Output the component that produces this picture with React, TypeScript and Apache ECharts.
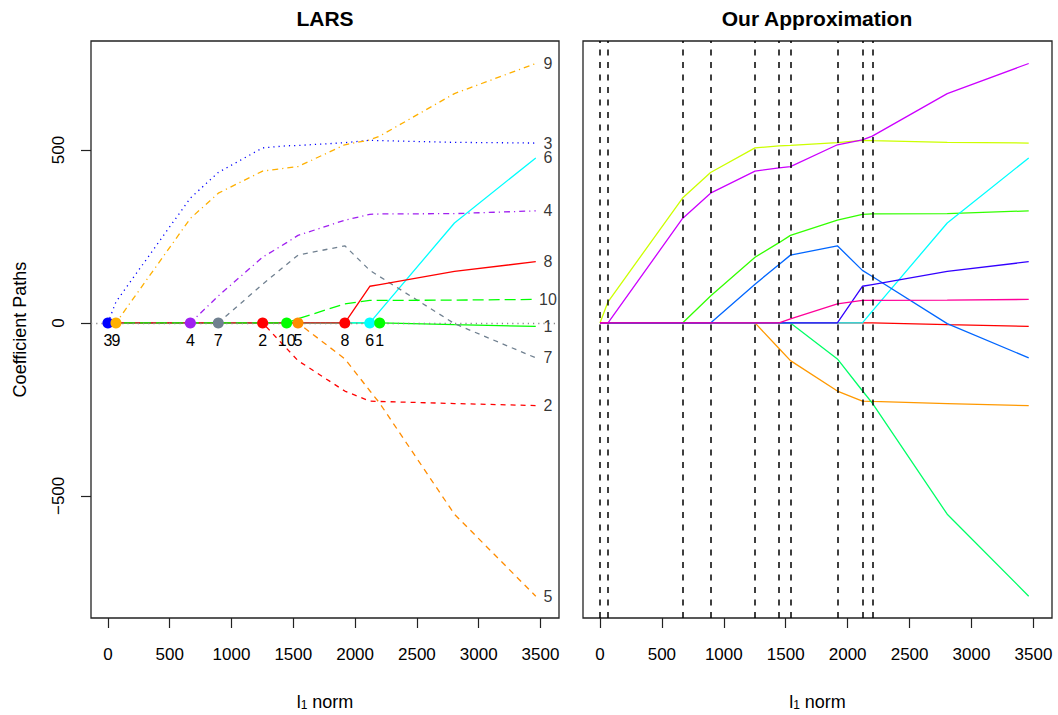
import React, { useEffect, useRef } from "react";
import * as echarts from "echarts";

// l1-norm values at the path breakpoints
const knots = [0, 65, 667, 893, 1252, 1446, 1538, 1917, 2119, 2199, 2804, 3462];
// coefficient values of each variable at the breakpoints
const coef1 = [0, 0, 0, 0, 0, 0, 0, 0, 0, 0, -5, -10];
const coef2 = [0, 0, 0, 0, 0, -74, -109, -197, -226, -227, -233, -239];
const coef3 = [0, 61, 361, 435, 506, 512, 513, 521, 528, 527, 522, 520];
const coef4 = [0, 0, 0, 78, 190, 232, 253, 297, 314, 315, 316, 324];
const coef5 = [0, 0, 0, 0, 0, 0, 0, -104, -196, -232, -553, -790];
const coef6 = [0, 0, 0, 0, 0, 0, 0, 0, 0, 34, 289, 477];
const coef7 = [0, 0, 0, 0, 112, 169, 196, 223, 152, 134, -2, -101];
const coef8 = [0, 0, 0, 0, 0, 0, 0, 0, 106, 111, 149, 177];
const coef9 = [0, 0, 302, 375, 439, 448, 452, 515, 529, 540, 663, 750];
const coef10 = [0, 0, 0, 0, 0, 0, 12, 55, 65, 65, 66, 68];

const varNames = ["1", "2", "3", "4", "5", "6", "7", "8", "9", "10"];
const coefs = [coef1, coef2, coef3, coef4, coef5, coef6, coef7, coef8, coef9, coef10];
// order in which variables enter (one per breakpoint)
const entryOrder = ["3", "9", "4", "7", "2", "10", "5", "8", "6", "1"];

const xTicks = [0, 500, 1000, 1500, 2000, 2500, 3000, 3500];
const yTicks = [-500, 0, 500];

const larsColors = ["#00FF00", "#FF0000", "#0000FF", "#A020F0", "#FF8C00", "#00FFFF", "#708090", "#FF0000", "#FFB000", "#00FF00"];
const larsDash: any[] = ["solid", [5, 5], [1.2, 4], [1.2, 4, 6, 4], [6, 5], "solid", [5, 5], "solid", [1.2, 4, 6, 4], [11, 5]];
const approxColors = ["#FF0000", "#FF9900", "#CCFF00", "#33FF00", "#00FF66", "#00FFFF", "#0066FF", "#3300FF", "#CC00FF", "#FF0099"];

const FONT = "'Liberation Sans', Arial, Helvetica, sans-serif";
const X_MIN = -137;
const X_MAX = 3650;
const Y_MIN = -853;
const Y_MAX = 815;

export default function App() {
  const ref = useRef<HTMLDivElement>(null);
  useEffect(() => {
    if (!ref.current) return;
    const chart = echarts.init(ref.current, undefined, { renderer: "svg" });

    const xAxisBase = (gridIndex: number) => ({
      type: "value",
      gridIndex,
      min: X_MIN,
      max: X_MAX,
      axisLine: { show: false, onZero: false },
      splitLine: { show: false },
      axisTick: { show: true, length: 10, customValues: xTicks, lineStyle: { color: "#222", width: 1.2 } },
      axisLabel: { show: true, customValues: xTicks, margin: 28, fontSize: 17, color: "#000", fontFamily: FONT, formatter: (v: number) => String(v) },
      name: "{a|l}{b|1}{a| norm}",
      nameLocation: "middle",
      nameGap: 74,
      nameTextStyle: {
        rich: {
          a: { fontSize: 18, fontFamily: FONT, color: "#000" },
          b: { fontSize: 12, fontFamily: FONT, color: "#000", padding: [7, 0, 0, 0] },
        },
      },
    });

    const series: any[] = [];
    // left panel lines
    coefs.forEach((c, i) => {
      series.push({
        type: "line",
        xAxisIndex: 0,
        yAxisIndex: 0,
        name: "lars" + varNames[i],
        data: knots.map((k, j) => [k, c[j]]),
        symbol: "none",
        lineStyle: { color: larsColors[i], width: 1.3, type: larsDash[i] },
        z: 2,
        markLine:
          i === 0
            ? {
                silent: true,
                symbol: ["none", "none"],
                label: { show: false },
                lineStyle: { color: "#888", type: [1.2, 4], width: 1.3 },
                data: [{ yAxis: 0 }],
              }
            : undefined,
      });
    });
    // entry dots
    series.push({
      type: "scatter",
      xAxisIndex: 0,
      yAxisIndex: 0,
      symbolSize: 11,
      z: 5,
      data: entryOrder.map((v, j) => ({
        value: [knots[j], 0],
        itemStyle: { color: larsColors[Number(v) - 1], opacity: 1 },
        label: { formatter: v },
      })),
      label: { show: true, position: "bottom", distance: 4, fontSize: 16, color: "#000", fontFamily: FONT },
    });
    // right-side labels of final values
    series.push({
      type: "scatter",
      xAxisIndex: 0,
      yAxisIndex: 0,
      symbolSize: 0,
      z: 5,
      data: coefs.map((c, i) => ({ value: [3561, c[c.length - 1]], label: { formatter: varNames[i] } })),
      label: { show: true, position: "inside", fontSize: 16, color: "#000", fontFamily: FONT },
    });
    // right panel lines
    coefs.forEach((c, i) => {
      series.push({
        type: "line",
        xAxisIndex: 1,
        yAxisIndex: 1,
        name: "approx" + varNames[i],
        data: knots.map((k, j) => [k, c[j]]),
        symbol: "none",
        lineStyle: { color: approxColors[i], width: 1.3 },
        z: 2,
        markLine:
          i === 9
            ? {
                silent: true,
                symbol: ["none", "none"],
                label: { show: false },
                lineStyle: { color: "#000", type: [6, 6.5], width: 1.5 },
                data: knots.slice(0, 10).map((k) => ({ xAxis: k })),
              }
            : undefined,
      });
    });

    chart.setOption({
      animation: false,
      backgroundColor: "#fff",
      textStyle: { fontFamily: FONT },
      grid: [
        { left: 91, top: 41, width: 468, height: 577, show: true, borderColor: "#222", borderWidth: 1.3, backgroundColor: "transparent", containLabel: false, outerBoundsMode: "none" },
        { left: 583, top: 41, width: 469, height: 577, show: true, borderColor: "#222", borderWidth: 1.3, backgroundColor: "transparent", containLabel: false, outerBoundsMode: "none" },
      ],
      xAxis: [xAxisBase(0), xAxisBase(1)],
      yAxis: [
        {
          type: "value",
          gridIndex: 0,
          min: Y_MIN,
          max: Y_MAX,
          axisLine: { show: false, onZero: false },
          splitLine: { show: false },
          axisTick: { show: true, length: 10, customValues: yTicks, lineStyle: { color: "#222", width: 1.2 } },
          axisLabel: { show: true, customValues: yTicks, rotate: 90, margin: 24, fontSize: 17, color: "#000", fontFamily: FONT, formatter: (v: number) => (v < 0 ? "\u2212" + Math.abs(v) : String(v)) },
          name: "Coefficient Paths",
          nameLocation: "middle",
          nameGap: 62,
          nameRotate: 90,
          nameTextStyle: { fontSize: 18, color: "#000", fontFamily: FONT },
        },
        {
          type: "value",
          gridIndex: 1,
          min: Y_MIN,
          max: Y_MAX,
          axisLine: { show: false, onZero: false },
          splitLine: { show: false },
          axisTick: { show: false },
          axisLabel: { show: false },
        },
      ],
      graphic: [
        { type: "text", x: 325, y: 18, style: { text: "LARS", align: "center", verticalAlign: "middle", font: "bold 21px " + FONT, fill: "#000" } },
        { type: "text", x: 817, y: 18, style: { text: "Our Approximation", align: "center", verticalAlign: "middle", font: "bold 21px " + FONT, fill: "#000" } },
      ],
      series,
    });
    return () => chart.dispose();
  }, []);
  return <div ref={ref} style={{ position: "absolute", left: 0, top: 0, width: 1058, height: 715 }} />;
}
